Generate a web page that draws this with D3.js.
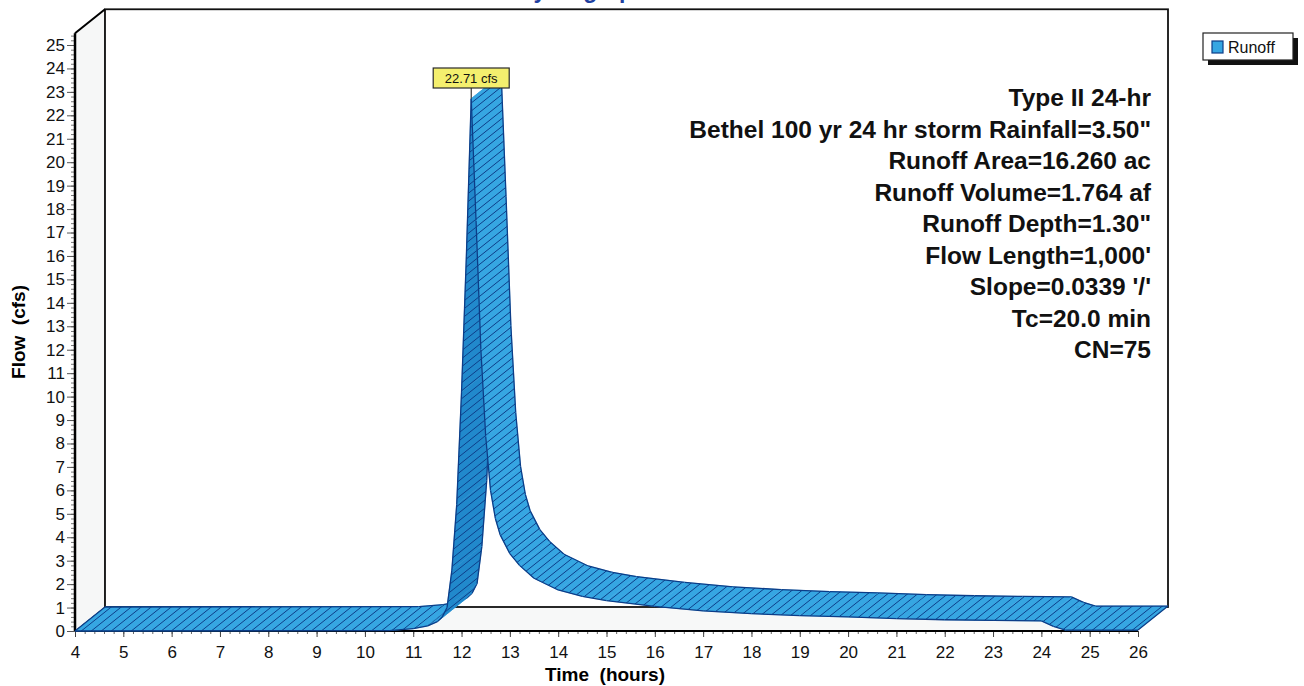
<!DOCTYPE html>
<html>
<head>
<meta charset="utf-8">
<script src="https://cdn.jsdelivr.net/npm/d3@7"></script>
<style>
  body { margin: 0; background: #fff; }
  svg text { font-family: "Liberation Sans", Arial, sans-serif; }
</style>
</head>
<body>
<svg id="chart" width="1304" height="686"></svg>
<script>
// hydrograph values (hours, cfs)
const hours = [4.0, 10.5, 11.0, 11.3, 11.5, 11.6, 11.7, 11.8, 11.9, 12.0, 12.1, 12.2,
  12.3, 12.4, 12.5, 12.6, 12.7, 12.8, 13.0, 13.2, 13.5, 14.0, 14.5, 15.0, 16.0, 17.0,
  18.0, 19.0, 20.0, 21.0, 22.0, 23.0, 24.0, 24.25, 24.5, 26.0];
const flow = [0, 0.02, 0.1, 0.22, 0.4, 0.6, 1.0, 2.6, 5.4, 10.2, 16.0, 22.71,
  17.5, 12.0, 8.3, 6.0, 4.8, 4.1, 3.3, 2.8, 2.25, 1.75, 1.48, 1.3, 1.05, 0.86,
  0.74, 0.66, 0.6, 0.53, 0.48, 0.45, 0.43, 0.2, 0.04, 0.04];

const xTicks = [4, 5, 6, 7, 8, 9, 10, 11, 12, 13, 14, 15, 16, 17, 18, 19, 20, 21, 22, 23, 24, 25, 26];
const yTicks = [0, 1, 2, 3, 4, 5, 6, 7, 8, 9, 10, 11, 12, 13, 14, 15, 16, 17, 18, 19, 20, 21, 22, 23, 24, 25];

const seriesName = "Runoff";
const peakLabel = "22.71 cfs";
const infoLines = [
  "Type II 24-hr",
  "Bethel 100 yr 24 hr storm Rainfall=3.50\"",
  "Runoff Area=16.260 ac",
  "Runoff Volume=1.764 af",
  "Runoff Depth=1.30\"",
  "Flow Length=1,000'",
  "Slope=0.0339 '/'",
  "Tc=20.0 min",
  "CN=75"
];

const svg = d3.select('#chart');
const x = d3.scaleLinear().domain([4, 26]).range([75, 1138]);
const y = d3.scaleLinear().domain([0, 25]).range([631, 45]);
const dx = 30, dz = -24;         // depth offset of the 3d box
const yTop = y(25.5);

const fillLight = '#36a6e2', fillDark = '#2189cc', edge = '#0c3d88';

// hatch pattern, lines running along the depth direction
const defs = svg.append('defs');
const pat = defs.append('pattern')
  .attr('id', 'hatch')
  .attr('patternUnits', 'userSpaceOnUse')
  .attr('width', 10).attr('height', 8);
pat.append('path')
  .attr('d', 'M-1,8.8L11,-0.8M9,8.8L11,7.2M-1,0.8L1,-0.8')
  .attr('stroke', edge).attr('stroke-width', 1).attr('fill', 'none');

// title (mostly cut off at the top)
svg.append('text')
  .attr('x', 582).attr('y', -2)
  .attr('text-anchor', 'middle')
  .attr('font-size', 23).attr('font-weight', 'bold')
  .attr('fill', '#1f3f9f')
  .text('Hydrograph');

// side wall and floor
const x0 = x(4), x1 = x(26), y0 = y(0);
svg.append('polygon')
  .attr('points', [[x0, y0], [x0, yTop], [x0 + dx, yTop + dz], [x0 + dx, y0 + dz]].join(' '))
  .attr('fill', '#f6f7f7').attr('stroke', '#222').attr('stroke-width', 1);
svg.append('polygon')
  .attr('points', [[x0, y0], [x1, y0], [x1 + dx, y0 + dz], [x0 + dx, y0 + dz]].join(' '))
  .attr('fill', '#f7f8f8').attr('stroke', 'none');

// back wall
svg.append('rect')
  .attr('x', x0 + dx).attr('y', yTop + dz)
  .attr('width', x1 - x0).attr('height', y0 - yTop)
  .attr('fill', '#fff').attr('stroke', '#111').attr('stroke-width', 1.8);

// y axis
const yMinor = d3.range(0, 25.5, 0.2);
svg.append('g')
  .attr('transform', `translate(${x0},0)`)
  .call(d3.axisLeft(y).tickValues(yMinor).tickSize(4).tickFormat(''))
  .call(g => g.select('.domain').remove())
  .call(g => g.selectAll('line').attr('stroke', '#777'));
svg.append('g')
  .attr('transform', `translate(${x0},0)`)
  .call(d3.axisLeft(y).tickValues(yTicks).tickSize(8).tickPadding(2))
  .call(g => g.select('.domain').remove())
  .call(g => g.selectAll('line').attr('stroke', '#555'))
  .call(g => g.selectAll('text').attr('font-size', 17).attr('fill', '#111')
    .attr('font-family', '"Liberation Sans", Arial, sans-serif'));

// x axis
const xMinor = d3.range(4, 26.01, 0.2);
svg.append('g')
  .attr('transform', `translate(0,${y0})`)
  .call(d3.axisBottom(x).tickValues(xMinor).tickSize(3).tickFormat(''))
  .call(g => g.select('.domain').remove())
  .call(g => g.selectAll('line').attr('stroke', '#666'));
svg.append('g')
  .attr('transform', `translate(0,${y0})`)
  .call(d3.axisBottom(x).tickValues(xTicks).tickSize(6).tickPadding(9))
  .call(g => g.select('.domain').remove())
  .call(g => g.selectAll('line').attr('stroke', '#444'))
  .call(g => g.selectAll('text').attr('font-size', 17).attr('fill', '#111')
    .attr('font-family', '"Liberation Sans", Arial, sans-serif'));

// front axis lines
svg.append('line')
  .attr('x1', x0).attr('x2', x0).attr('y1', y0).attr('y2', yTop)
  .attr('stroke', '#000').attr('stroke-width', 2.5);
svg.append('line')
  .attr('x1', x0).attr('x2', x0 + dx).attr('y1', yTop).attr('y2', yTop + dz)
  .attr('stroke', '#000').attr('stroke-width', 2);
svg.append('line')
  .attr('x1', x0).attr('x2', x1).attr('y1', y0).attr('y2', y0)
  .attr('stroke', '#000').attr('stroke-width', 2);

// 3d ribbon
const pts = hours.map((h, i) => [x(h), y(flow[i])]);
const ribbon = svg.append('g');
for (let i = 0; i < pts.length - 1; i++) {
  const p0 = pts[i], p1 = pts[i + 1];
  const q0 = [p0[0] + dx, p0[1] + dz], q1 = [p1[0] + dx, p1[1] + dz];
  const cross = (p1[0] - p0[0]) * dz - (p1[1] - p0[1]) * dx;
  const quad = [p0, p1, q1, q0].join(' ');
  const g = ribbon.append('g');
  g.append('polygon').attr('points', quad)
    .attr('fill', cross > 0 ? fillDark : fillLight)
    .attr('stroke', cross > 0 ? fillDark : fillLight).attr('stroke-width', 0.6);
  g.append('polygon').attr('points', quad).attr('fill', 'url(#hatch)');
  g.append('path')
    .attr('d', `M${p0}L${p1}M${q0}L${q1}`)
    .attr('stroke', edge).attr('stroke-width', 1.3).attr('fill', 'none');
}
[pts[0], pts[pts.length - 1]].forEach(p => {
  ribbon.append('line')
    .attr('x1', p[0]).attr('y1', p[1]).attr('x2', p[0] + dx).attr('y2', p[1] + dz)
    .attr('stroke', edge).attr('stroke-width', 1.3);
});

// peak label
const peakI = flow.indexOf(d3.max(flow));
const px = x(hours[peakI]), py = y(flow[peakI]);
svg.append('line')
  .attr('x1', px).attr('x2', px).attr('y1', py).attr('y2', 88)
  .attr('stroke', '#111').attr('stroke-width', 1);
svg.append('rect')
  .attr('x', px - 38).attr('y', 68).attr('width', 76).attr('height', 20)
  .attr('fill', '#f4ef6e').attr('stroke', '#2a2a2a').attr('stroke-width', 1.2);
svg.append('text')
  .attr('x', px).attr('y', 83)
  .attr('text-anchor', 'middle').attr('font-size', 13).attr('fill', '#111')
  .text(peakLabel);

// info block
svg.append('g').selectAll('text').data(infoLines).enter().append('text')
  .attr('x', 1151)
  .attr('y', (d, i) => 106 + i * 31.5)
  .attr('text-anchor', 'end')
  .attr('font-size', 24.5).attr('font-weight', 'bold').attr('fill', '#111')
  .text(d => d);

// legend
const lg = svg.append('g').attr('transform', 'translate(1203,33)');
lg.append('rect').attr('x', 5).attr('y', 5).attr('width', 90).attr('height', 27).attr('fill', '#111');
lg.append('rect').attr('x', 0).attr('y', 0).attr('width', 90).attr('height', 27)
  .attr('fill', '#fff').attr('stroke', '#222').attr('stroke-width', 1.2);
lg.append('rect').attr('x', 9).attr('y', 8).attr('width', 11).attr('height', 12)
  .attr('fill', fillLight).attr('stroke', edge).attr('stroke-width', 1.2);
lg.append('text').attr('x', 25).attr('y', 20).attr('font-size', 16).attr('fill', '#111').text(seriesName);

// axis titles
svg.append('text')
  .attr('x', 605).attr('y', 681)
  .attr('text-anchor', 'middle').attr('font-size', 19).attr('font-weight', 'bold')
  .attr('xml:space', 'preserve')
  .text('Time  (hours)');
svg.append('text')
  .attr('transform', 'translate(25,332) rotate(-90)')
  .attr('text-anchor', 'middle').attr('font-size', 19).attr('font-weight', 'bold')
  .attr('xml:space', 'preserve')
  .text('Flow  (cfs)');
</script>
</body>
</html>
